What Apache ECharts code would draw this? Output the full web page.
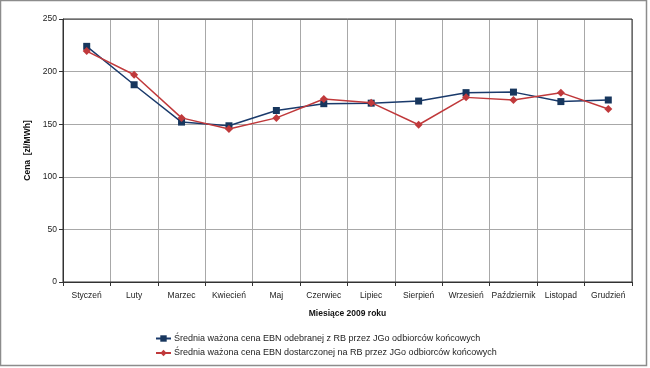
<!DOCTYPE html>
<html><head><meta charset="utf-8">
<script src="https://cdn.jsdelivr.net/npm/echarts@6/dist/echarts.min.js"></script>
<style>html,body{margin:0;padding:0;background:#fff}#c{width:650px;height:368px}</style>
</head><body><div id="c"></div>
<script>
const categories = ['Styczeń','Luty','Marzec','Kwiecień','Maj','Czerwiec','Lipiec','Sierpień','Wrzesień','Październik','Listopad','Grudzień'];
const odebranej = [224, 187.5, 152, 148.5, 163, 169.5, 170, 172, 180, 180.5, 171.5, 173];
const dostarczonej = [219.5, 197, 156, 145.5, 156, 174, 170.5, 149.5, 175.5, 173, 180, 164.5];
const yTicks = [0, 50, 100, 150, 200, 250];
const seriesNames = ['Średnia ważona cena EBN odebranej z RB przez JGo odbiorców końcowych','Średnia ważona cena EBN dostarczonej na RB przez JGo odbiorców końcowych'];

const chart = echarts.init(document.getElementById('c'), null, {renderer:'canvas'});
const font = 'Liberation Sans, Arial, sans-serif';
chart.setOption({
  animation:false,
  backgroundColor:'#fff',
  textStyle:{fontFamily:font},
  graphic:[
    {type:'rect', shape:{x:0.5,y:0.5,width:646,height:365}, style:{fill:'none', stroke:'#8c8c8c', lineWidth:1.5}, silent:true, z:-1},
    {type:'rect', shape:{x:63,y:19,width:569,height:263}, style:{fill:'none', stroke:'#333', lineWidth:1}, silent:true, z:10}
  ],
  grid:{left:63,right:18,top:19,bottom:86,containLabel:false},
  xAxis:{
    type:'category', data:categories, boundaryGap:true,
    axisLine:{lineStyle:{color:'#333',width:1}},
    axisTick:{show:true, length:4, lineStyle:{color:'#333'}},
    axisLabel:{color:'#222', fontSize:8.5, margin:9, interval:0},
    splitLine:{show:true, lineStyle:{color:'#a8a8a8', width:1}},
    name:'Miesiące 2009 roku', nameLocation:'middle', nameGap:27,
    nameTextStyle:{fontWeight:'bold', fontSize:8.5, color:'#111'}
  },
  yAxis:{
    type:'value', min:0, max:250, interval:50,
    axisLine:{show:true, lineStyle:{color:'#333',width:1}},
    axisTick:{show:true, length:4, lineStyle:{color:'#333'}},
    axisLabel:{color:'#222', fontSize:8.5, margin:6,
      formatter:function(v){return yTicks.indexOf(v)>=0 ? String(v) : '';}},
    splitLine:{show:true, lineStyle:{color:'#a8a8a8', width:1}},
    name:'Cena  [zł/MWh]', nameLocation:'middle', nameGap:24, nameRotate:90,
    nameTextStyle:{fontWeight:'bold', fontSize:8.5, color:'#111'}
  },
  legend:{
    orient:'vertical', left:155, top:334, padding:0, itemGap:5.5, itemWidth:15, itemHeight:8,
    textStyle:{fontSize:9, color:'#222', padding:[0,0,0,-2]},
    data:[seriesNames[0], seriesNames[1]]
  },
  series:[
    {name:seriesNames[0], type:'line', data:odebranej, symbol:'rect', symbolSize:7,
     lineStyle:{color:'#1a3a6b', width:1.5}, itemStyle:{color:'#17365d'}, z:3},
    {name:seriesNames[1], type:'line', data:dostarczonej, symbol:'diamond', symbolSize:8,
     lineStyle:{color:'#c0393b', width:1.5}, itemStyle:{color:'#c0393b'}, z:4}
  ]
});
</script></body></html>
